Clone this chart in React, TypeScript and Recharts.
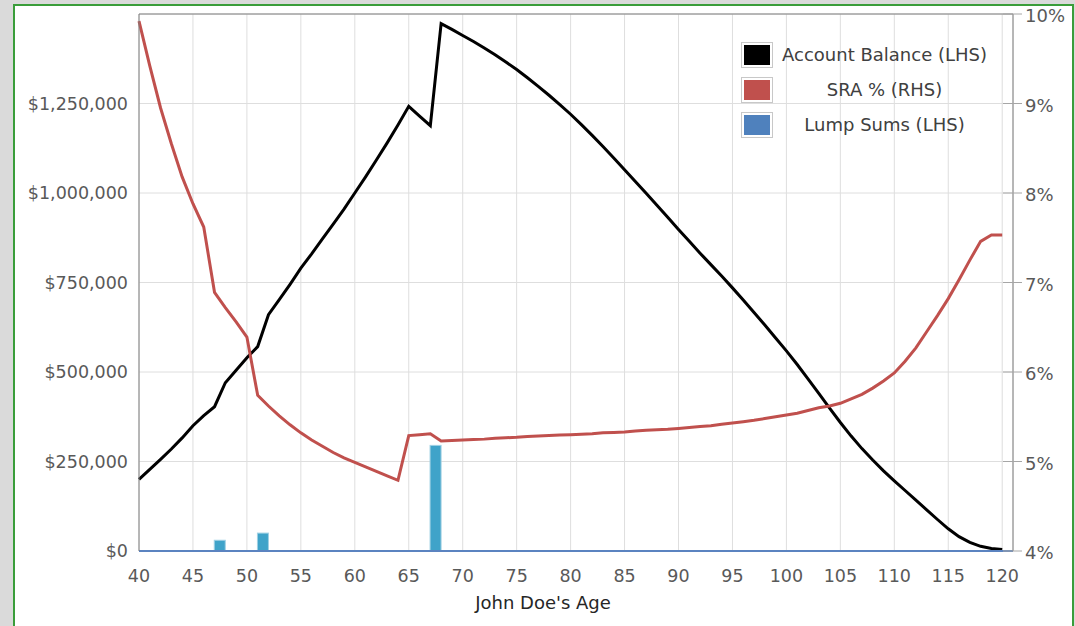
import React from 'react'
import {
  ComposedChart,
  Line,
  Bar,
  XAxis,
  YAxis,
  CartesianGrid,
  ReferenceLine,
  Label,
} from 'recharts'

// ages 40..120, one value per year
const startAge = 40
const balance = [
  200000, 228000, 256000, 285000, 316000, 350000, 378000, 403000, 470000, 505000,
  540000, 571000, 660000, 702000, 745000, 790000, 830000, 872000, 913000, 955000,
  1000000, 1045000, 1092000, 1140000, 1190000, 1242000, 1215000, 1188000, 1473000, 1457000,
  1440000, 1423000, 1405000, 1386000, 1366000, 1345000, 1322000, 1298000, 1273000, 1247000,
  1220000, 1191000, 1161000, 1130000, 1098000, 1065000, 1032000, 999000, 966000, 932000,
  898000, 865000, 832000, 800000, 768000, 735000, 701000, 666000, 631000, 595000,
  559000, 521000, 481000, 440000, 399000, 359000, 321000, 286000, 254000, 224000,
  196000, 169000, 142000, 115000, 88000, 62000, 40000, 24000, 13000, 7000,
  4000,
]
const sraPct = [
  9.92, 9.42, 8.95, 8.55, 8.18, 7.88, 7.62, 6.89, 6.72, 6.56,
  6.39, 5.74, 5.62, 5.51, 5.41, 5.32, 5.24, 5.17, 5.1, 5.04,
  4.99, 4.94, 4.89, 4.84, 4.79, 5.29, 5.3, 5.31, 5.23, 5.235,
  5.24, 5.245, 5.25, 5.26, 5.265, 5.27, 5.28, 5.285, 5.29, 5.295,
  5.3, 5.305, 5.31, 5.32, 5.325, 5.33, 5.34, 5.35, 5.355, 5.36,
  5.37, 5.38, 5.39, 5.4, 5.415, 5.43, 5.445, 5.46, 5.48, 5.5,
  5.52, 5.54, 5.57, 5.6, 5.62, 5.65, 5.7, 5.75, 5.82, 5.9,
  5.99, 6.12, 6.27, 6.45, 6.63, 6.82, 7.03, 7.25, 7.46, 7.53,
  7.53,
]
// lump sums sit in the middle of the year they are paid
const lumpAges = [47.5, 51.5, 67.5]
const lumpSums = [30000, 50000, 295000]

const xTicks = [40, 45, 50, 55, 60, 65, 70, 75, 80, 85, 90, 95, 100, 105, 110, 115, 120]
const leftTicks = [0, 250000, 500000, 750000, 1000000, 1250000]
const rightTicks = [4, 5, 6, 7, 8, 9, 10]

const series = [
  { name: 'Account Balance (LHS)', color: '#000000' },
  { name: 'SRA % (RHS)', color: '#c0504d' },
  { name: 'Lump Sums (LHS)', color: '#4f81bd' },
]

const rows: any[] = balance.map((b, i) => ({ age: startAge + i, balance: b, sra: sraPct[i] }))
lumpAges.forEach((a, i) => rows.push({ age: a, lump: lumpSums[i] }))
rows.sort((a, b) => a.age - b.age)

const money = (v: number) => '$' + v.toLocaleString('en-US')

const textColor = '#595959'
const tickFont = 17.5

function RightTick(props: any) {
  const { x, y, payload } = props
  return (
    <g>
      <line x1={x - 22} x2={x - 3} y1={y} y2={y} stroke="#a6a6a6" />
      <text x={x} y={y} dy="0.45em" fill={textColor} fontSize={18} textAnchor="start">
        {payload.value}%
      </text>
    </g>
  )
}

// one-year-wide bar centred on the scaled x position
function LumpBar(props: any) {
  const { x, y, width, height } = props
  if (!height) return null
  const w = 11
  const cx = x + width / 2
  return <rect x={cx - w / 2} y={y} width={w} height={height} fill="#3fa3c9" stroke="#9fd0e4" />
}

function ChartLegend() {
  return (
    <div style={{ position: 'absolute', left: 741, top: 37, width: 255 }}>
      {series.map((s) => (
        <div key={s.name} style={{ display: 'flex', alignItems: 'center', height: 35 }}>
          <div
            style={{
              width: 26,
              height: 20,
              border: '1px solid #c8c8c8',
              padding: 2,
              background: '#fff',
              flex: 'none',
            }}
          >
            <div style={{ width: '100%', height: '100%', background: s.color }} />
          </div>
          <div style={{ flex: 1, textAlign: 'center', color: '#404040', fontSize: 18 }}>{s.name}</div>
        </div>
      ))}
    </div>
  )
}

export default function App() {
  return (
    <div style={{ position: 'fixed', inset: 0, background: '#dadada', fontFamily: '"DejaVu Sans", sans-serif' }}>
      <div
        style={{
          position: 'absolute',
          left: 13,
          top: 4,
          width: 1057,
          height: 660,
          border: '2px solid #3a9d3a',
          background: '#fff',
        }}
      />
      <div style={{ position: 'absolute', left: 0, top: 0 }}>
        <ComposedChart width={1075} height={626} data={rows} margin={{ top: 14, right: 0, bottom: 0, left: 0 }}>
          <CartesianGrid yAxisId="left" stroke="#dedede" />
          <XAxis
            dataKey="age"
            type="number"
            domain={[40, 121]}
            ticks={xTicks}
            height={75}
            tickLine={false}
            tickSize={0}
            tickMargin={19}
            axisLine={{ stroke: '#5b83c0', strokeWidth: 2 }}
            tick={{ fill: textColor, fontSize: tickFont }}
          >
            <Label value="John Doe's Age" position="insideBottom" offset={17} dx={-33} fill="#262626" fontSize={18} />
          </XAxis>
          <YAxis
            yAxisId="left"
            domain={[0, 1500000]}
            ticks={leftTicks}
            width={139}
            tickLine={false}
            tickSize={0}
            tickMargin={11}
            axisLine={{ stroke: '#7f7f7f' }}
            tickFormatter={money}
            tick={{ fill: textColor, fontSize: tickFont }}
          />
          <YAxis
            yAxisId="right"
            orientation="right"
            domain={[4, 10]}
            ticks={rightTicks}
            width={62}
            tickSize={9}
            tickMargin={3}
            tickLine={false}
            axisLine={{ stroke: '#7f7f7f' }}
            tick={<RightTick />}
          />
          <ReferenceLine yAxisId="left" y={1500000} stroke="#7f7f7f" />
          <Bar
            yAxisId="left"
            dataKey="lump"
            name="Lump Sums (LHS)"
            shape={<LumpBar />}
            isAnimationActive={false}
          />
          <Line
            yAxisId="left"
            dataKey="balance"
            name="Account Balance (LHS)"
            stroke="#000"
            strokeWidth={3}
            dot={false}
            activeDot={false}
            connectNulls
            isAnimationActive={false}
          />
          <Line
            yAxisId="right"
            dataKey="sra"
            name="SRA % (RHS)"
            stroke="#c0504d"
            strokeWidth={3}
            dot={false}
            activeDot={false}
            connectNulls
            isAnimationActive={false}
          />
        </ComposedChart>
      </div>
      <ChartLegend />
    </div>
  )
}
